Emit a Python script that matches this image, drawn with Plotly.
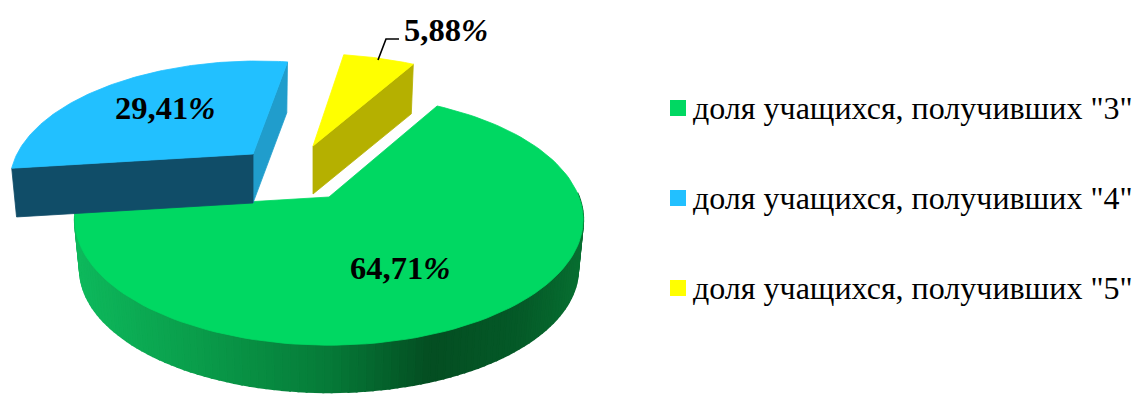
import numpy as np
import plotly.graph_objects as go

# ---- data ----
categories = ['доля учащихся, получивших "3"', 'доля учащихся, получивших "4"', 'доля учащихся, получивших "5"']
shares = [64.71, 29.41, 5.88]
labels = ["64,71", "29,41", "5,88"]

# ---- style ----
W, H = 1137, 394
TOP = ["#00d862", "#22c0ff", "#ffff00"]
START_DEG = 30.0
# per-slice apex (px), radii, perspective, depth and shear
GEOM = [
    dict(ax=329, ay=197, A=250, B=121.5, k=-0.18, d=50, s=0.0),
    dict(ax=253, ay=154, A=236, B=113, k=-0.215, d=49, s=-0.05),
    dict(ax=313, ay=146, A=238, B=112, k=-0.215, d=48, s=0.0),
]
BOTTOM_SCALE = 0.98
GREEN_STOPS_X = [80, 200, 330, 430, 520, 585]
GREEN_STOPS_RGB = [(14, 184, 92), (10, 156, 74), (6, 122, 56), (4, 78, 34), (5, 90, 40), (8, 112, 50)]
BLUE_FRONT = "#104d68"
BLUE_SIDE = "#209dcc"
YELLOW_SIDE = "#b5b000"
LABEL_POS = [(400, 268), (165, 108), (446, 30)]
LEADER_X = [378, 386, 399]
LEADER_Y = [60, 39, 39]
LEGEND_Y = [108, 198, 288]


def proj(g, theta, r=1.0, bottom=False):
    u = r * np.sin(theta)
    v = -r * np.cos(theta)
    den = 1 + g["k"] * v
    y = g["B"] * v / den
    x = g["A"] * u / den + g["s"] * y
    if bottom:
        x = x * BOTTOM_SCALE
        y = y * BOTTOM_SCALE + g["d"]
    return g["ax"] + x, g["ay"] + y


fig = go.Figure()


def poly(xs, ys, color, lw=0.8):
    fig.add_trace(go.Scatter(
        x=list(xs), y=list(ys), mode="lines", fill="toself", fillcolor=color,
        line=dict(color=color, width=lw), hoverinfo="skip", showlegend=False))


# slice angle spans from the shares
edges = START_DEG + np.cumsum([0] + shares) * 3.6
spans = [np.radians([edges[i], edges[i + 1]]) for i in range(3)]


def top_face(i):
    g = GEOM[i]
    t = np.linspace(spans[i][0], spans[i][1], 120)
    xs, ys = proj(g, t)
    poly(np.r_[g["ax"], xs, g["ax"]], np.r_[g["ay"], ys, g["ay"]], TOP[i])


# green outer wall with gradient
g = GEOM[0]
t0 = np.radians(88)
ts = np.linspace(t0, spans[0][1], 110)
for a, b in zip(ts[:-1], ts[1:]):
    xa, ya = proj(g, a)
    xb, yb = proj(g, b)
    xc, yc = proj(g, b, bottom=True)
    xd, yd = proj(g, a, bottom=True)
    xm = (xa + xb) / 2
    rgb = [int(np.interp(xm, GREEN_STOPS_X, [c[j] for c in GREEN_STOPS_RGB])) for j in range(3)]
    poly([xa, xb, xc, xd, xa], [ya, yb, yc, yd, ya], "rgb(%d,%d,%d)" % tuple(rgb), lw=2)
top_face(0)

# yellow cut face
g = GEOM[2]
x1, y1 = proj(g, spans[2][1])
x2, y2 = proj(g, spans[2][1], bottom=True)
poly([g["ax"], x1, x2, g["ax"], g["ax"]], [g["ay"], y1, y2, g["ay"] + g["d"], g["ay"]], YELLOW_SIDE)
top_face(2)

# blue cut faces
g = GEOM[1]
x1, y1 = proj(g, spans[1][1])
x2, y2 = proj(g, spans[1][1], bottom=True)
poly([g["ax"], x1, x2, g["ax"], g["ax"]], [g["ay"], y1, y2, g["ay"] + g["d"], g["ay"]], BLUE_SIDE)
x1, y1 = proj(g, spans[1][0])
x2, y2 = proj(g, spans[1][0], bottom=True)
poly([g["ax"], x1, x2, g["ax"], g["ax"]], [g["ay"], y1, y2, g["ay"] + g["d"], g["ay"]], BLUE_FRONT)
top_face(1)

# leader line
fig.add_trace(go.Scatter(x=LEADER_X, y=LEADER_Y, mode="lines", line=dict(color="black", width=1.6),
                         hoverinfo="skip", showlegend=False))

# legend swatches
fig.add_trace(go.Scatter(x=[678] * 3, y=LEGEND_Y, mode="markers",
                         marker=dict(symbol="square", size=16, color=TOP, line=dict(width=0)),
                         hoverinfo="skip", showlegend=False))

for lab, (x, y) in zip(labels, LABEL_POS):
    fig.add_annotation(x=x, y=y, xref="x", yref="y", showarrow=False, xanchor="center", yanchor="middle",
                       text="<b>%s<i>%%</i></b>" % lab,
                       font=dict(family="Liberation Serif", size=32.5, color="black"))
for cat, y in zip(categories, LEGEND_Y):
    fig.add_annotation(x=691, y=y, xref="x", yref="y", showarrow=False, xanchor="left", yanchor="middle",
                       text=cat, font=dict(family="Liberation Serif", size=32, color="black"))

fig.update_layout(
    width=W, height=H, margin=dict(l=0, r=0, t=0, b=0), paper_bgcolor="white", plot_bgcolor="white",
    xaxis=dict(range=[0, W], visible=False, fixedrange=True),
    yaxis=dict(range=[H, 0], visible=False, fixedrange=True),
)
fig.write_html("out.html", post_script="document.body.style.margin='0';", config=dict(displayModeBar=False))
